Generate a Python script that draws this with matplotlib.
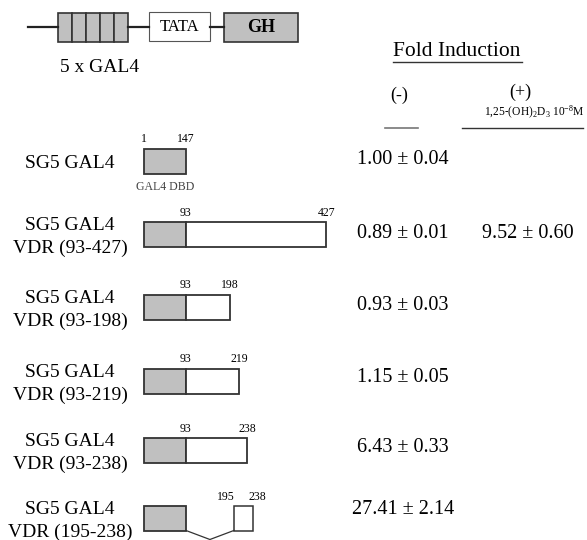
import numpy as np
import matplotlib
matplotlib.use("Agg")
import matplotlib.pyplot as plt
from matplotlib.patches import Rectangle

plt.rcParams['font.family'] = ['Liberation Serif', 'DejaVu Serif']
plt.rcParams['mathtext.fontset'] = 'custom'
plt.rcParams['mathtext.rm'] = 'Liberation Serif'
plt.rcParams['mathtext.it'] = 'Liberation Serif:italic'

# constructs and data
constructs = ["SG5 GAL4", "SG5 GAL4\nVDR (93-427)", "SG5 GAL4\nVDR (93-198)",
              "SG5 GAL4\nVDR (93-219)", "SG5 GAL4\nVDR (93-238)", "SG5 GAL4\nVDR (195-238)"]
vdr_start = [None, 93, 93, 93, 93, 195]
vdr_end = [None, 427, 198, 219, 238, 238]
minus_mean = [1.00, 0.89, 0.93, 1.15, 6.43, 27.41]
minus_sd = [0.04, 0.01, 0.03, 0.05, 0.33, 2.14]
plus_mean = [np.nan, 9.52, np.nan, np.nan, np.nan, np.nan]
plus_sd = [np.nan, 0.60, np.nan, np.nan, np.nan, np.nan]
dbd_range = (1, 147)

# layout (pixels)
row_y = [161, 234, 307, 381, 450, 518]
value_y = [160, 233, 305, 378, 448, 510]
box_h = 25
gal_x0, gal_x1 = 144, 186
px_per_aa = 0.42
gray = '#c0c0c0'
edge = '#333333'


def aa_x(aa):
    return gal_x1 + (aa - 93) * px_per_aa


fig = plt.figure(figsize=(5.87, 5.4), dpi=100)
ax = fig.add_axes([0, 0, 1, 1])
ax.set_xlim(0, 587)
ax.set_ylim(540, 0)
ax.axis('off')

# reporter construct at top
ax.plot([28, 58], [27, 27], color='#222222', lw=1.6)
for i in range(5):
    ax.add_patch(Rectangle((58 + i * 14, 13), 14, 29, fc=gray, ec=edge, lw=1.2))
ax.plot([128, 149], [27, 27], color='#222222', lw=1.6)
ax.add_patch(Rectangle((149, 12), 61, 29, fc='white', ec='#555555', lw=0.8))
ax.text(179.5, 27, "TATA", ha='center', va='center', fontsize=12)
ax.plot([210, 224], [27, 27], color='#222222', lw=1.6)
ax.add_patch(Rectangle((224, 13), 74, 29, fc=gray, ec=edge, lw=1.2))
ax.text(261, 28, "GH", ha='center', va='center', fontsize=13, fontweight='bold')
ax.text(100, 67, "5 x GAL4", ha='center', va='center', fontsize=14)

# header
ax.text(457, 52, "Fold Induction", ha='center', va='center', fontsize=15.5)
ax.plot([393, 522], [62, 62], color='#333333', lw=1.0)
ax.text(399, 95, "(-)", ha='center', va='center', fontsize=13)
ax.text(520, 92, "(+)", ha='center', va='center', fontsize=13)
ax.text(534, 112, r"1,25-(OH)$_2$D$_3$ 10$^{-8}$M", ha='center', va='center', fontsize=8.3)
ax.plot([385, 418], [128, 128], color='#777777', lw=1.2)
ax.plot([462, 583], [128, 128], color='#333333', lw=1.0)

for i, name in enumerate(constructs):
    y = row_y[i]
    top = y - box_h / 2
    ax.text(70, y + 3, name, ha='center', va='center', fontsize=14, linespacing=1.4)
    ax.add_patch(Rectangle((gal_x0, top), gal_x1 - gal_x0, box_h, fc=gray, ec=edge, lw=1.3))
    if vdr_start[i] is None:
        ax.text(gal_x0, top - 3, str(dbd_range[0]), ha='center', va='bottom', fontsize=8.5)
        ax.text(gal_x1, top - 3, str(dbd_range[1]), ha='center', va='bottom', fontsize=8.5)
        ax.text((gal_x0 + gal_x1) / 2, top + box_h + 14, "GAL4 DBD", ha='center', va='center',
                fontsize=8.5, color='#444444')
    else:
        x0, x1 = aa_x(vdr_start[i]), aa_x(vdr_end[i])
        if vdr_start[i] == 93:
            ax.add_patch(Rectangle((x0, top), x1 - x0, box_h, fc='white', ec=edge, lw=1.3))
            ax.text(x0, top - 3, str(vdr_start[i]), ha='center', va='bottom', fontsize=8.5)
            ax.text(x1, top - 3, str(vdr_end[i]), ha='center', va='bottom', fontsize=8.5)
        else:
            x0 += 5
            x1 += 6
            ax.add_patch(Rectangle((x0, top), x1 - x0, box_h, fc='white', ec=edge, lw=1.1))
            ax.plot([gal_x1, (gal_x1 + x0) / 2, x0], [top + box_h, top + box_h + 9, top + box_h],
                    color='#333333', lw=0.9)
            ax.text(x0 + 1, top - 3, str(vdr_start[i]), ha='right', va='bottom', fontsize=8.5)
            ax.text(x1 - 4, top - 3, str(vdr_end[i]), ha='left', va='bottom', fontsize=8.5)
    ax.text(403, value_y[i], f"{minus_mean[i]:.2f} \u00b1 {minus_sd[i]:.2f}", ha='center',
            va='center', fontsize=14.5)
    if not np.isnan(plus_mean[i]):
        ax.text(528, value_y[i], f"{plus_mean[i]:.2f} \u00b1 {plus_sd[i]:.2f}", ha='center',
                va='center', fontsize=14.5)

plt.savefig('out.png', dpi=100)
